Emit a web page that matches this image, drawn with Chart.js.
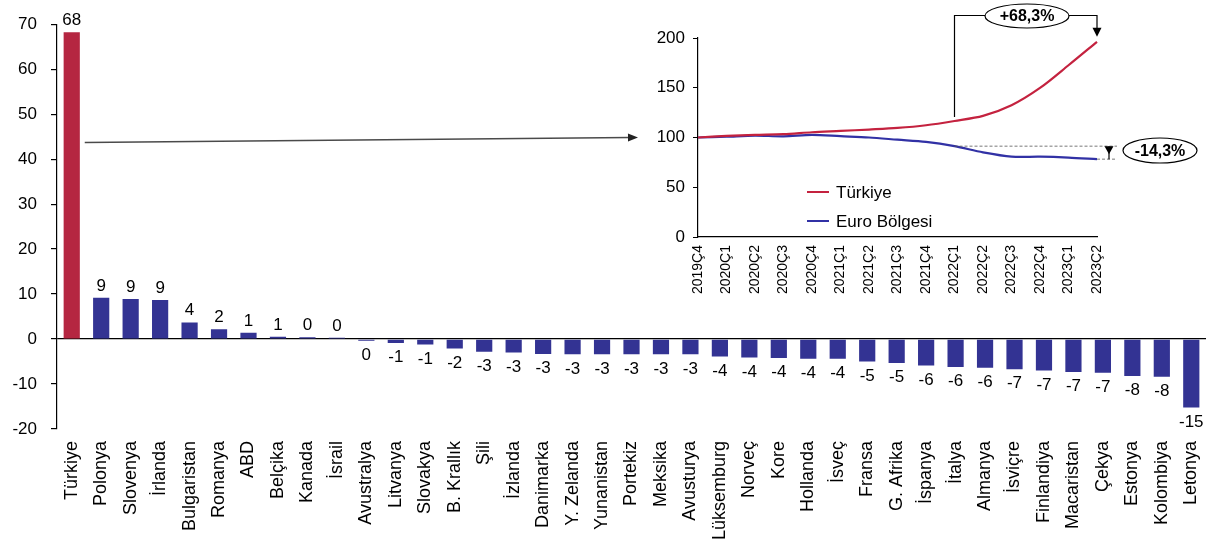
<!DOCTYPE html>
<html>
<head>
<meta charset="utf-8">
<script src="https://cdn.jsdelivr.net/npm/chart.js@4.4.0/dist/chart.umd.min.js"></script>
<style>
  html, body { margin: 0; padding: 0; background: #fff; }
  #wrap { position: relative; width: 1217px; height: 550px; overflow: hidden; }
  #main { position: absolute; left: 0; top: 0; }
  #inset { position: absolute; left: 640px; top: 0; }
</style>
</head>
<body>
<div id="wrap">
  <canvas id="main" width="1217" height="550"></canvas>
  <canvas id="inset" width="577" height="300"></canvas>
</div>
<script>
// Change by country (%), ordered from highest to lowest
const countries = [
  'Türkiye', 'Polonya', 'Slovenya', 'İrlanda', 'Bulgaristan', 'Romanya', 'ABD', 'Belçika',
  'Kanada', 'İsrail', 'Avustralya', 'Litvanya', 'Slovakya', 'B. Krallık', 'Şili', 'İzlanda',
  'Danimarka', 'Y. Zelanda', 'Yunanistan', 'Portekiz', 'Meksika', 'Avusturya', 'Lüksemburg',
  'Norveç', 'Kore', 'Hollanda', 'İsveç', 'Fransa', 'G. Afrika', 'İspanya', 'İtalya', 'Almanya',
  'İsviçre', 'Finlandiya', 'Macaristan', 'Çekya', 'Estonya', 'Kolombiya', 'Letonya'
];
const changes = [
  68.2, 9.2, 8.9, 8.7, 3.7, 2.2, 1.4, 0.5,
  0.4, 0.3, -0.4, -0.9, -1.2, -2.1, -2.8, -3.0,
  -3.3, -3.4, -3.4, -3.4, -3.4, -3.4, -3.9,
  -4.1, -4.2, -4.4, -4.4, -5.0, -5.3, -5.9, -6.2, -6.4,
  -6.7, -7.0, -7.3, -7.5, -8.2, -8.4, -15.2
];
const mainTicks = [70, 60, 50, 40, 30, 20, 10, 0, -10, -20];

// Quarterly index (2019Q4 = 100)
const quarters = [
  '2019Ç4', '2020Ç1', '2020Ç2', '2020Ç3', '2020Ç4', '2021Ç1', '2021Ç2', '2021Ç3',
  '2021Ç4', '2022Ç1', '2022Ç2', '2022Ç3', '2022Ç4', '2023Ç1', '2023Ç2'
];
const turkiye = [100, 101.6, 102.6, 103.3, 105.3, 106.6, 108.0, 109.6, 112.3, 116.6, 121.7, 132.4, 149.8, 172.6, 196.2];
const euroArea = [100, 100.8, 101.8, 101.2, 102.6, 101.3, 100.0, 97.8, 95.6, 91.3, 85.1, 80.8, 80.7, 79.8, 78.25];
const insetTicks = [0, 50, 100, 150, 200];

const FONT = '"Liberation Sans", Arial, Helvetica, sans-serif';
const BAR_RED = '#B52641';
const BAR_BLUE = '#333393';
const LINE_RED = '#C4223F';
const LINE_BLUE = '#3131A5';

Chart.defaults.font.family = FONT;
Chart.defaults.color = '#000';

// Integer value labels above / below each bar
const valueLabels = {
  id: 'valueLabels',
  afterDatasetsDraw(chart) {
    const ctx = chart.ctx;
    const meta = chart.getDatasetMeta(0);
    ctx.save();
    ctx.font = '17px ' + FONT;
    ctx.fillStyle = '#000';
    ctx.textAlign = 'center';
    meta.data.forEach((bar, i) => {
      const v = changes[i];
      const txt = String(Math.round(v) + 0);
      if (v >= 0) {
        ctx.textBaseline = 'alphabetic';
        ctx.fillText(txt, bar.x, bar.y - 7);
      } else {
        ctx.textBaseline = 'top';
        ctx.fillText(txt, bar.x, bar.y + 6);
      }
    });
    ctx.restore();
  }
};

// Pointer from the first bar towards the quarterly panel
const connector = {
  id: 'connector',
  afterDraw(chart) {
    const ctx = chart.ctx;
    const bar = chart.getDatasetMeta(0).data[0];
    const x0 = bar.x + 13, y0 = 142.5;
    const x1 = 638, y1 = 137.5;
    const ang = Math.atan2(y1 - y0, x1 - x0);
    ctx.save();
    ctx.strokeStyle = '#4a4a4a';
    ctx.fillStyle = '#222';
    ctx.lineWidth = 1.5;
    ctx.beginPath();
    ctx.moveTo(x0, y0);
    ctx.lineTo(x1 - 8 * Math.cos(ang), y1 - 8 * Math.sin(ang));
    ctx.stroke();
    ctx.beginPath();
    ctx.moveTo(x1, y1);
    ctx.lineTo(x1 - 10 * Math.cos(ang) + 4 * Math.sin(ang), y1 - 10 * Math.sin(ang) - 4 * Math.cos(ang));
    ctx.lineTo(x1 - 10 * Math.cos(ang) - 4 * Math.sin(ang), y1 - 10 * Math.sin(ang) + 4 * Math.cos(ang));
    ctx.closePath();
    ctx.fill();
    ctx.restore();
  }
};

new Chart(document.getElementById('main'), {
  type: 'bar',
  data: {
    labels: countries,
    datasets: [{
      data: changes,
      backgroundColor: countries.map((c, i) => i === 0 ? BAR_RED : BAR_BLUE),
      borderWidth: 0,
      barPercentage: 0.55,
      categoryPercentage: 1
    }]
  },
  options: {
    responsive: false,
    animation: false,
    devicePixelRatio: 1,
    layout: { padding: { left: 0, right: 9, top: 23, bottom: 0 } },
    plugins: { legend: { display: false }, tooltip: { enabled: false } },
    scales: {
      x: {
        grid: { display: false },
        border: { display: false },
        ticks: {
          autoSkip: false, maxRotation: 90, minRotation: 90, padding: 4,
          color: '#000', font: { family: FONT, size: 18 }
        },
        afterFit(s) { s.height = 121; }
      },
      y: {
        min: -20, max: 70,
        afterBuildTicks(s) { s.ticks = mainTicks.map(v => ({ value: v })); },
        ticks: { padding: 14, color: '#000', font: { family: FONT, size: 17 } },
        grid: {
          color: c => (c.tick && c.tick.value === 0) ? '#000' : 'rgba(0,0,0,0)',
          tickColor: '#000', tickLength: 6, lineWidth: 1.2
        },
        border: { color: '#000', width: 1.2 },
        afterFit(s) { s.width = 57; }
      }
    }
  },
  plugins: [valueLabels, connector]
});

// Legend and change annotations of the quarterly panel
function ellipseLabel(ctx, cx, cy, rx, ry, text) {
  ctx.save();
  ctx.beginPath();
  ctx.ellipse(cx, cy, rx, ry, 0, 0, Math.PI * 2);
  ctx.fillStyle = '#fff';
  ctx.fill();
  ctx.strokeStyle = '#000';
  ctx.lineWidth = 1.2;
  ctx.stroke();
  ctx.fillStyle = '#000';
  ctx.font = 'bold 16px ' + FONT;
  ctx.textAlign = 'center';
  ctx.textBaseline = 'middle';
  ctx.fillText(text, cx, cy + 1);
  ctx.restore();
}
function downArrowHead(ctx, x, tipY, w, h) {
  ctx.beginPath();
  ctx.moveTo(x, tipY);
  ctx.lineTo(x - w / 2, tipY - h);
  ctx.lineTo(x + w / 2, tipY - h);
  ctx.closePath();
  ctx.fill();
}
function pct(a, b) {
  const p = (b / a - 1) * 100;
  return (p >= 0 ? '+' : '') + p.toFixed(1).replace('.', ',') + '%';
}

const insetNotes = {
  id: 'insetNotes',
  afterDraw(chart) {
    const ctx = chart.ctx;
    const xs = chart.scales.x, ys = chart.scales.y;
    const i0 = 9, i1 = quarters.length - 1;
    const xa = xs.getPixelForValue(i0), xb = xs.getPixelForValue(i1);

    // Legend
    ctx.save();
    ctx.font = '17px ' + FONT;
    ctx.textBaseline = 'middle';
    ctx.fillStyle = '#000';
    [['Türkiye', LINE_RED, 192], ['Euro Bölgesi', LINE_BLUE, 221]].forEach(([t, c, y]) => {
      ctx.strokeStyle = c;
      ctx.lineWidth = 2;
      ctx.beginPath();
      ctx.moveTo(167, y);
      ctx.lineTo(189, y);
      ctx.stroke();
      ctx.fillText(t, 196, y + 1);
    });
    ctx.restore();

    // Türkiye bracket
    const topY = 15.5;
    const tA = ys.getPixelForValue(turkiye[i0]);
    const tB = ys.getPixelForValue(turkiye[i1]);
    ctx.save();
    ctx.strokeStyle = '#000';
    ctx.fillStyle = '#000';
    ctx.lineWidth = 1.2;
    ctx.beginPath();
    ctx.moveTo(xa, tA - 4);
    ctx.lineTo(xa, topY);
    ctx.lineTo(xb, topY);
    ctx.lineTo(xb, tB - 12);
    ctx.stroke();
    downArrowHead(ctx, xb, tB - 5, 9, 9);
    ctx.restore();
    ellipseLabel(ctx, 387, 16, 42, 12, pct(turkiye[i0], turkiye[i1]));

    // Euro area drop
    const eA = ys.getPixelForValue(euroArea[i0]);
    const eB = ys.getPixelForValue(euroArea[i1]);
    const xr = xb + 16;
    ctx.save();
    ctx.strokeStyle = '#555';
    ctx.lineWidth = 0.8;
    ctx.setLineDash([3, 2]);
    ctx.beginPath();
    ctx.moveTo(xa, eA);
    ctx.lineTo(xr + 4, eA);
    ctx.moveTo(xb, eB);
    ctx.lineTo(xr + 4, eB);
    ctx.stroke();
    ctx.setLineDash([]);
    ctx.strokeStyle = '#000';
    ctx.fillStyle = '#000';
    ctx.lineWidth = 1.2;
    ctx.beginPath();
    ctx.moveTo(xr - 4, eA);
    ctx.lineTo(xr - 4, eB);
    ctx.stroke();
    downArrowHead(ctx, xr - 4, eA + 8, 9, 8);
    ctx.restore();
    ellipseLabel(ctx, 520, 150.5, 37, 12.5, pct(euroArea[i0], euroArea[i1]));
  }
};

new Chart(document.getElementById('inset'), {
  type: 'line',
  data: {
    labels: quarters,
    datasets: [
      { label: 'Türkiye', data: turkiye, borderColor: LINE_RED, borderWidth: 2.2, pointRadius: 0, tension: 0.3, fill: false },
      { label: 'Euro Bölgesi', data: euroArea, borderColor: LINE_BLUE, borderWidth: 2.2, pointRadius: 0, tension: 0.3, fill: false }
    ]
  },
  options: {
    responsive: false,
    animation: false,
    devicePixelRatio: 1,
    layout: { padding: { left: 0, right: 120, top: 38, bottom: 0 } },
    plugins: { legend: { display: false }, tooltip: { enabled: false } },
    scales: {
      x: {
        offset: false,
        grid: { display: false },
        border: { color: '#000', width: 1.2 },
        ticks: {
          autoSkip: false, maxRotation: 90, minRotation: 90, padding: 0,
          color: '#000', font: { family: FONT, size: 14 }
        },
        afterFit(s) { s.height = 63; }
      },
      y: {
        min: 0, max: 200,
        afterBuildTicks(s) { s.ticks = insetTicks.map(v => ({ value: v })); },
        ticks: { padding: 8, color: '#000', font: { family: FONT, size: 17 } },
        grid: { color: 'rgba(0,0,0,0)', tickColor: '#000', tickLength: 5 },
        border: { color: '#000', width: 1.2 },
        afterFit(s) { s.width = 58; }
      }
    }
  },
  plugins: [insetNotes]
});
</script>
</body>
</html>
